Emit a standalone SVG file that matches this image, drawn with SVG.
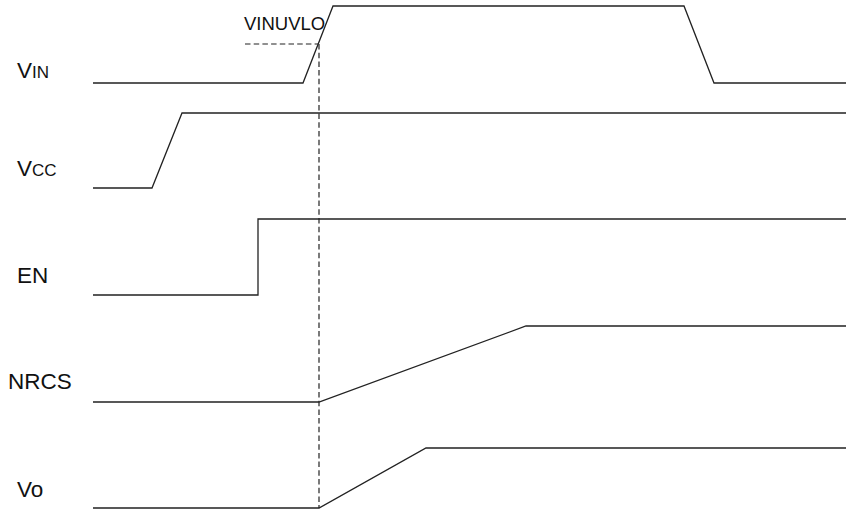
<svg xmlns="http://www.w3.org/2000/svg" width="846" height="512" viewBox="0 0 846 512">
<style>
.sig{fill:none;stroke:#222;stroke-width:1.3}
.dash{fill:none;stroke:#222;stroke-width:1.2;stroke-dasharray:5.5,3.2}
.lbl{font-family:"Liberation Sans",Arial,sans-serif;font-size:22.5px;fill:#111}
.sm{font-size:17px}
.note{font-family:"Liberation Sans",Arial,sans-serif;font-size:18.5px;fill:#111}
</style>
<rect width="846" height="512" fill="#fff"/>
<g id="labels">
<text id="lbl-vin" class="lbl" x="17" y="78">V<tspan class="sm">IN</tspan></text>
<text id="lbl-vcc" class="lbl" x="17" y="176">V<tspan class="sm">CC</tspan></text>
<text id="lbl-en" class="lbl" x="17" y="283">EN</text>
<text id="lbl-nrcs" class="lbl" x="8" y="389">NRCS</text>
<text id="lbl-vo" class="lbl" x="17" y="497">Vo</text>
<text id="lbl-uvlo" class="note" x="244" y="30">VINUVLO</text>
</g>
<g id="connectors">
<polyline id="vin" class="sig" points="93,83 303,83 333,6 684,6 714,83 846,83"/>
<polyline id="vcc" class="sig" points="93,188 152,188 182,113 846,113"/>
<polyline id="en" class="sig" points="93,295 258,295 258,219 846,219"/>
<polyline id="nrcs" class="sig" points="93,402 319,402 526,326 846,326"/>
<polyline id="vo" class="sig" points="93,508 319,508 426,448 846,448"/>
<line class="dash" x1="245" y1="44" x2="318" y2="44"/>
<line class="dash" x1="319" y1="44" x2="319" y2="508"/>
</g>
</svg>
